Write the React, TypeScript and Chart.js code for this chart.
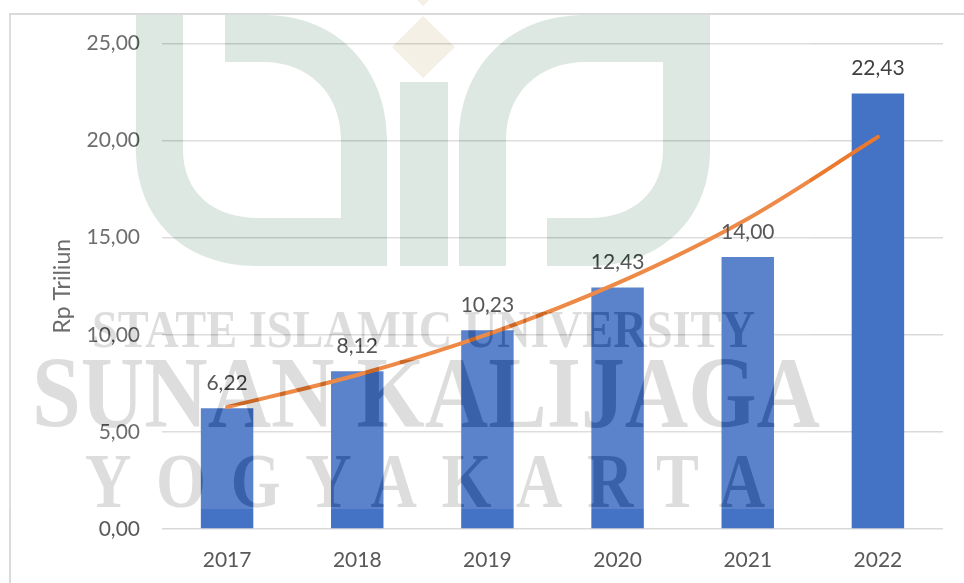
import React, { useEffect, useRef } from "react";
import { Chart, registerables } from "chart.js";

Chart.register(...registerables);

const years = ["2017", "2018", "2019", "2020", "2021", "2022"];
const values = [6.22, 8.12, 10.23, 12.43, 14.0, 22.43];
const trend = [6.28, 7.93, 10.02, 12.66, 15.98, 20.19];
const yTicksMax = 25;
const yStep = 5;
const axisTitle = "Rp Triliun";
const watermarkLines = ["STATE ISLAMIC UNIVERSITY", "SUNAN KALIJAGA", "YOGYAKARTA"];

const FONT = "Lato, sans-serif";
const fmt = (v: number) => v.toFixed(2).replace(".", ",");

function fitText(
  ctx: CanvasRenderingContext2D,
  text: string,
  size: number,
  left: number,
  right: number,
  baseline: number,
  spacing = 0
) {
  ctx.save();
  ctx.font = `bold ${size}px "Liberation Serif", serif`;
  (ctx as any).letterSpacing = `${spacing}px`;
  const w = ctx.measureText(text).width - spacing;
  ctx.translate(left, baseline);
  ctx.scale((right - left) / w, 1);
  ctx.textAlign = "left";
  ctx.textBaseline = "alphabetic";
  ctx.fillText(text, 0, 0);
  ctx.restore();
}

const framePlugin = {
  id: "frame",
  beforeDraw(chart: any) {
    const { ctx, width, height } = chart;
    ctx.save();
    ctx.fillStyle = "#ffffff";
    ctx.fillRect(0, 0, width, height);
    ctx.strokeStyle = "#DADADA";
    ctx.lineWidth = 2;
    ctx.beginPath();
    ctx.moveTo(10, height);
    ctx.lineTo(10, 14);
    ctx.lineTo(width, 14);
    ctx.stroke();
    ctx.restore();
  },
};

const labelPlugin = {
  id: "valueLabels",
  afterDatasetsDraw(chart: any) {
    const { ctx } = chart;
    const meta = chart.getDatasetMeta(1);
    ctx.save();
    ctx.font = `21px ${FONT}`;
    ctx.fillStyle = "#404040";
    ctx.textAlign = "center";
    ctx.textBaseline = "middle";
    meta.data.forEach((bar: any, i: number) => {
      ctx.fillText(fmt(values[i]), bar.x, bar.y - 25);
    });
    ctx.restore();
  },
};

const watermarkPlugin = {
  id: "watermark",
  afterDraw(chart: any) {
    const { ctx } = chart;
    ctx.save();
    // washed layer
    ctx.fillStyle = "rgba(255,255,255,0.125)";
    ctx.fillRect(0, 15, 810, 494);

    ctx.globalCompositeOperation = "difference";

    // logo
    ctx.fillStyle = "rgb(34,23,29)";
    ctx.beginPath();
    ctx.moveTo(136, 15);
    ctx.lineTo(183, 15);
    ctx.lineTo(183, 150);
    ctx.bezierCurveTo(183, 192, 213, 218, 258, 218);
    ctx.lineTo(341, 218);
    ctx.lineTo(341, 140);
    ctx.bezierCurveTo(341, 92, 307, 62, 264, 62);
    ctx.lineTo(225, 62);
    ctx.lineTo(225, 15);
    ctx.lineTo(264, 15);
    ctx.bezierCurveTo(340, 15, 387, 71, 387, 140);
    ctx.lineTo(387, 266);
    ctx.lineTo(258, 266);
    ctx.bezierCurveTo(180, 266, 136, 215, 136, 150);
    ctx.closePath();
    ctx.fill();

    ctx.fillRect(400, 82, 48, 184);

    ctx.beginPath();
    ctx.moveTo(459, 266);
    ctx.lineTo(459, 140);
    ctx.bezierCurveTo(459, 71, 506, 15, 585, 15);
    ctx.lineTo(710, 15);
    ctx.lineTo(710, 150);
    ctx.bezierCurveTo(710, 215, 665, 266, 588, 266);
    ctx.lineTo(547, 266);
    ctx.lineTo(547, 218);
    ctx.lineTo(590, 218);
    ctx.bezierCurveTo(633, 218, 663, 192, 663, 150);
    ctx.lineTo(663, 62);
    ctx.lineTo(585, 62);
    ctx.bezierCurveTo(540, 62, 506, 92, 506, 140);
    ctx.lineTo(506, 266);
    ctx.closePath();
    ctx.fill();

    // diamond
    ctx.fillStyle = "rgb(10,15,25)";
    ctx.beginPath();
    ctx.moveTo(423, 16);
    ctx.lineTo(455, 47);
    ctx.lineTo(423, 78);
    ctx.lineTo(392, 47);
    ctx.closePath();
    ctx.moveTo(417, 0);
    ctx.lineTo(429, 0);
    ctx.lineTo(423, 6);
    ctx.closePath();
    ctx.fill();

    // text
    ctx.fillStyle = "rgb(34,34,34)";
    fitText(ctx, watermarkLines[0], 53, 92, 755, 347);
    fitText(ctx, watermarkLines[1], 101, 32, 820, 427);
    fitText(ctx, watermarkLines[2], 78, 85, 765, 507, 30);
    ctx.restore();
  },
};

export default function App() {
  const ref = useRef<HTMLCanvasElement>(null);

  useEffect(() => {
    if (!ref.current) return;
    const chart = new Chart(ref.current, {
      type: "bar",
      data: {
        labels: years,
        datasets: [
          {
            type: "line",
            label: "Trend",
            data: trend,
            borderColor: "#EB7A2E",
            borderWidth: 4,
            pointRadius: 0,
            tension: 0.4,
            cubicInterpolationMode: "monotone",
            borderCapStyle: "round",
            order: 0,
          },
          {
            type: "bar",
            label: "Rp Triliun",
            data: values,
            backgroundColor: "#4472C4",
            barPercentage: 0.403,
            categoryPercentage: 1,
            order: 1,
          },
        ],
      } as any,
      options: {
        responsive: false,
        animation: false,
        layout: { padding: { top: 43.5, right: 21, left: 0, bottom: 0 } },
        plugins: { legend: { display: false }, tooltip: { enabled: false } },
        scales: {
          x: {
            grid: { display: false, drawTicks: false },
            border: { display: false },
            ticks: { color: "#595959", font: { family: FONT, size: 21 }, padding: 19, maxRotation: 0 },
            afterFit(s: any) {
              s.height = 54;
            },
          },
          y: {
            min: 0,
            max: yTicksMax,
            grid: { color: "#D9D9D9", lineWidth: 1.5, drawTicks: false },
            border: { display: false },
            ticks: {
              stepSize: yStep,
              color: "#595959",
              font: { family: FONT, size: 21 },
              padding: 22,
              callback: (v: any) => fmt(Number(v)),
            },
            title: {
              display: true,
              text: axisTitle,
              color: "#595959",
              font: { family: FONT, size: 23 },
              padding: { top: 49, bottom: 0 },
            },
            afterFit(s: any) {
              s.width = 162;
            },
          },
        },
      } as any,
      plugins: [framePlugin, labelPlugin, watermarkPlugin],
    });
    return () => chart.destroy();
  }, []);

  return (
    <canvas
      ref={ref}
      width={964}
      height={583}
      style={{ position: "fixed", left: 0, top: 0, display: "block", width: 964, height: 583, filter: "blur(0.5px)" }}
    />
  );
}
